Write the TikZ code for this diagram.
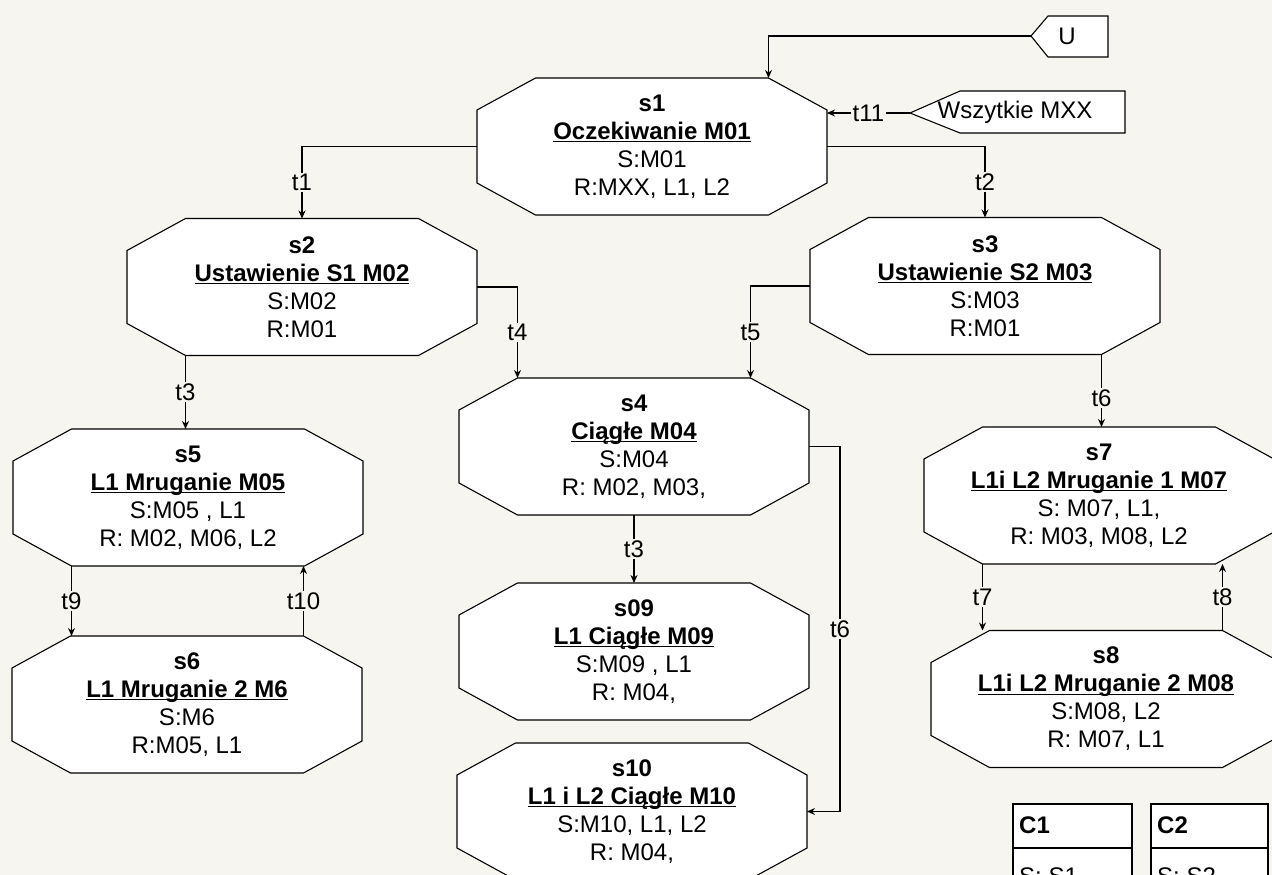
\documentclass[tikz,border=0pt]{standalone}
\usepackage{fontspec}
\setmainfont{Liberation Sans}
\usetikzlibrary{arrows.meta,calc}
\definecolor{pagebg}{RGB}{247,245,239}
\newcommand\myul[1]{\setbox0\hbox{#1}\rlap{\rule[-3pt]{\wd0}{1.3pt}}\box0}
\tikzset{
  every node/.style={font=\fontsize{24}{28}\selectfont},
  octo/.style={draw=black, fill=white, line width=1.1pt, line join=miter},
  statebox/.style={rectangle, minimum width=350pt, minimum height=137pt, inner sep=0pt, outer sep=0pt, align=center},
  arr/.style={-{Stealth[length=8pt,width=7pt]}, line width=1.1pt},
  plain/.style={line width=1.1pt},
  lbl/.style={fill=pagebg, inner sep=1.5pt},
  tagtext/.style={inner sep=0pt},
}
\newcommand\stateat[6]{%
  \draw[octo] (#2-175,#3-36.5) -- (#2-116.5,#3-68.5) -- (#2+116.5,#3-68.5) -- (#2+175,#3-36.5) -- (#2+175,#3+36.5) -- (#2+116.5,#3+68.5) -- (#2-116.5,#3+68.5) -- (#2-175,#3+36.5) -- cycle;
  \node[statebox] (#1) at (#2,#3) {\textbf{#4}\\\myul{\textbf{#5}}\\#6};
  \coordinate (#1-tl) at (#2-116.5,#3-68.5);
  \coordinate (#1-tr) at (#2+116.5,#3-68.5);
  \coordinate (#1-bl) at (#2-116.5,#3+68.5);
  \coordinate (#1-br) at (#2+116.5,#3+68.5);
  \coordinate (#1-rt) at (#2+175,#3-36.5);
}
\begin{document}
\begin{tikzpicture}[x=1pt,y=-1pt]
\path[use as bounding box] (0,0) rectangle (1272,875);
\clip (0,0) rectangle (1272,875);
\fill[pagebg] (0,0) rectangle (1272,875);

\stateat{s1}{652}{146.5}{s1}{Oczekiwanie M01}{S:M01\\R:MXX, L1, L2}
\stateat{s2}{302}{287}{s2}{Ustawienie S1 M02}{S:M02\\R:M01}
\stateat{s3}{985}{286}{s3}{Ustawienie S2 M03}{S:M03\\R:M01}
\stateat{s4}{634}{446.5}{s4}{Ciągłe M04}{S:M04\\R: M02, M03,}
\stateat{s09}{634}{651.5}{s09}{L1 Ciągłe M09}{S:M09 , L1\\R: M04,}
\stateat{s10}{632}{811.5}{s10}{L1 i L2 Ciągłe M10}{S:M10, L1, L2\\R: M04,}
\stateat{s5}{188}{497.5}{s5}{L1 Mruganie M05}{S:M05 , L1\\R: M02, M06, L2}
\stateat{s6}{187}{704.5}{s6}{L1 Mruganie 2 M6}{S:M6\\R:M05, L1}
\stateat{s7}{1099}{495.5}{s7}{L1i L2 Mruganie 1 M07}{S: M07, L1,\\R: M03, M08, L2}
\stateat{s8}{1106}{699}{s8}{L1i L2 Mruganie 2 M08}{S:M08, L2\\R: M07, L1}

% input tags
\draw[octo] (1031,36) -- (1048,16) -- (1108,16) -- (1108,57) -- (1048,57) -- cycle;
\node[tagtext] (U) at (1067,36.5) {U};
\coordinate (Utip) at (1031,36);
\draw[octo] (910,113) -- (960,91) -- (1125,91) -- (1125,133) -- (960,133) -- cycle;
\node[tagtext] (W) at (1015,112) {Wszytkie MXX};
\coordinate (Wtip) at (910,113);

% connectors
\draw[arr] (Utip) -| (s1-tr);
\draw[arr] (Wtip) -- node[lbl]{t11} (Wtip -| s1-rt);
\draw[arr] (s1.west) -| node[lbl,pos=0.75]{t1} (s2.north);
\draw[arr] (s1.east) -| node[lbl,pos=0.75]{t2} (s3.north);
\draw[arr] (s2.east) -| node[lbl,pos=0.75]{t4} (s4-tl);
\draw[arr] (s3.west) -| node[lbl,pos=0.75]{t5} (s4-tr);
\draw[arr] (s2-bl) -- node[lbl]{t3} (s2-bl |- s5.north);
\draw[arr] (s3-br) -- node[lbl,pos=0.6]{t6} (s3-br |- s7.north);
\draw[arr] (s5-bl) -- node[lbl]{t9} (s5-bl |- s6.north);
\draw[arr] (s6-tr) -- node[lbl]{t10} (s6-tr |- s5.south);
\draw[arr] (s7-bl) -- node[lbl]{t7} (s7-bl |- s8.north);
\draw[arr] (s8-tr) -- node[lbl]{t8} (s8-tr |- s7.south);
\draw[arr] (s4.south) -- node[lbl]{t3} (s09.north);
\draw[arr] (s4.east) -- ++(31,0) |- node[lbl,pos=0.25]{t6} (s10.east);

% tables
\draw[octo] (1013,804) rectangle (1132,900);
\draw[plain] (1013,848) -- (1132,848);
\node[anchor=base west, inner sep=0pt] (C1) at (1019,833) {\textbf{C1}};
\node[anchor=base west, inner sep=0pt] (C1s) at (1019,884) {S: S1};
\draw[octo] (1151,804) rectangle (1268,900);
\draw[plain] (1151,848) -- (1268,848);
\node[anchor=base west, inner sep=0pt] (C2) at (1157,833) {\textbf{C2}};
\node[anchor=base west, inner sep=0pt] (C2s) at (1157,884) {S: S2};
\end{tikzpicture}
\end{document}
